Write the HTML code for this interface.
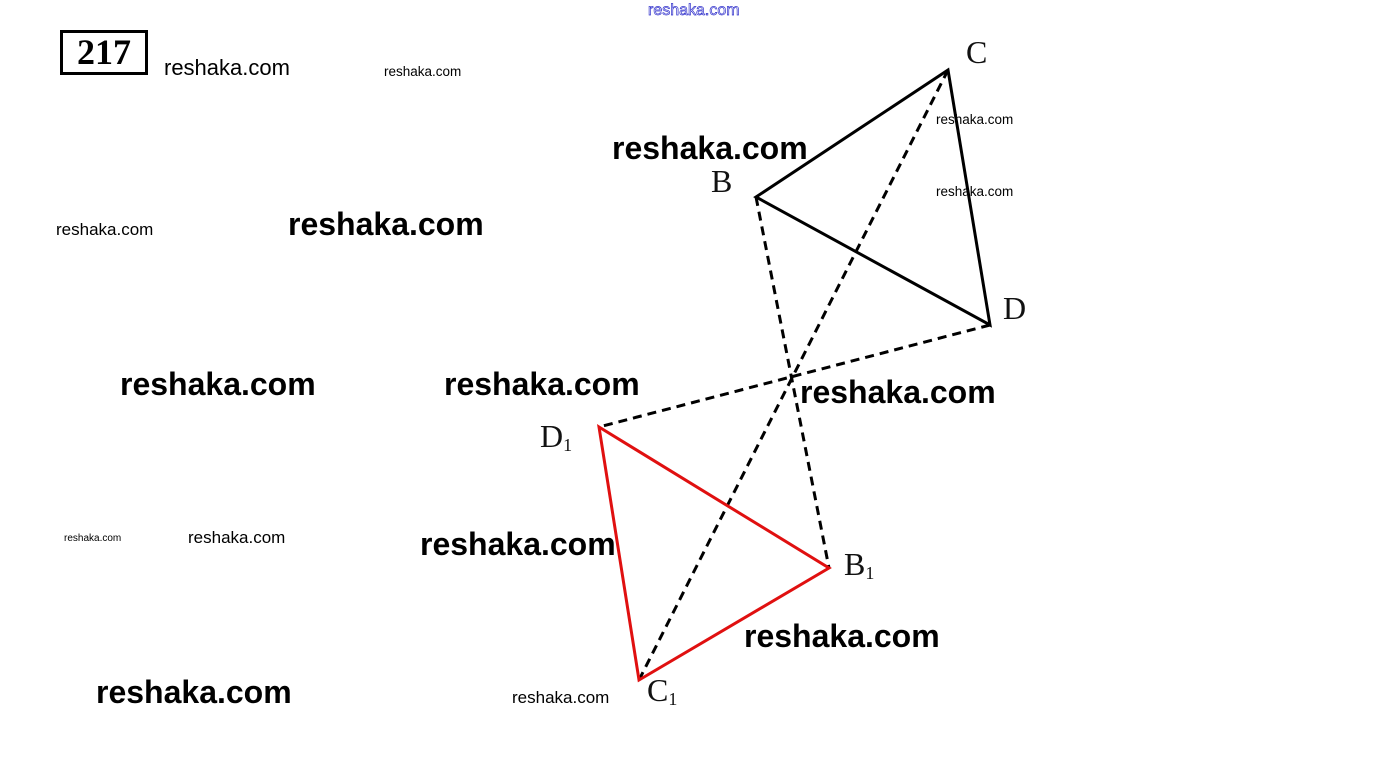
<!DOCTYPE html>
<html><head><style>
body{margin:0;width:1392px;height:780px;background:#fff;position:relative;overflow:hidden;font-family:"Liberation Sans",sans-serif}
.w{position:absolute;font-weight:bold;color:#000;line-height:1;white-space:nowrap}
.L{font-size:32px}.M{font-size:22px;font-weight:normal}.S{font-size:17px;font-weight:normal}.T{font-size:13.5px;font-weight:normal}
.lb{position:absolute;font-family:"Liberation Serif",serif;font-size:32px;line-height:1;color:#111}
.lb sub{font-size:18px;vertical-align:-4px}
</style></head><body>
<div style="position:absolute;left:60px;top:30px;width:82px;height:39px;border:3px solid #000;font-family:'Liberation Serif',serif;font-weight:bold;font-size:36px;line-height:39px;text-align:center">217</div>
<div class="w" style="left:648px;top:3px;font-size:16px;font-weight:normal;color:#fff;-webkit-text-stroke:0.7px #3333cc">reshaka.com</div>
<div class="w M" style="left:164px;top:57px">reshaka.com</div>
<div class="w T" style="left:384px;top:65px">reshaka.com</div>
<div class="w T" style="left:936px;top:113px">reshaka.com</div>
<div class="w T" style="left:936px;top:185px">reshaka.com</div>
<div class="w S" style="left:56px;top:221px">reshaka.com</div>
<div class="w S" style="left:188px;top:529px">reshaka.com</div>
<div class="w S" style="left:512px;top:689px">reshaka.com</div>
<div class="w" style="left:64px;top:534px;font-size:10px;font-weight:normal">reshaka.com</div>
<svg width="1392" height="780" style="position:absolute;left:0;top:0">
<g stroke="#000" stroke-width="3" fill="none" stroke-dasharray="9,6">
<line x1="756" y1="197" x2="829" y2="568"/>
<line x1="948" y1="70" x2="639" y2="680"/>
<line x1="990" y1="325" x2="599" y2="427"/>
</g>
<g stroke="#000" stroke-width="3" fill="none">
<polygon points="948,70 756,197 990,325"/>
</g>
<g stroke="#e01010" stroke-width="3" fill="none">
<polygon points="599,427 829,568 639,680"/>
</g>
</svg>
<div class="w L" style="left:612px;top:132px">reshaka.com</div>
<div class="w L" style="left:288px;top:208px">reshaka.com</div>
<div class="w L" style="left:120px;top:368px">reshaka.com</div>
<div class="w L" style="left:444px;top:368px">reshaka.com</div>
<div class="w L" style="left:800px;top:376px">reshaka.com</div>
<div class="w L" style="left:420px;top:528px">reshaka.com</div>
<div class="w L" style="left:744px;top:620px">reshaka.com</div>
<div class="w L" style="left:96px;top:676px">reshaka.com</div>
<div class="lb" style="left:966px;top:36px">C</div>
<div class="lb" style="left:711px;top:165px">B</div>
<div class="lb" style="left:1003px;top:292px">D</div>
<div class="lb" style="left:540px;top:420px">D<sub>1</sub></div>
<div class="lb" style="left:844px;top:548px">B<sub>1</sub></div>
<div class="lb" style="left:647px;top:674px">C<sub>1</sub></div>
</body></html>
